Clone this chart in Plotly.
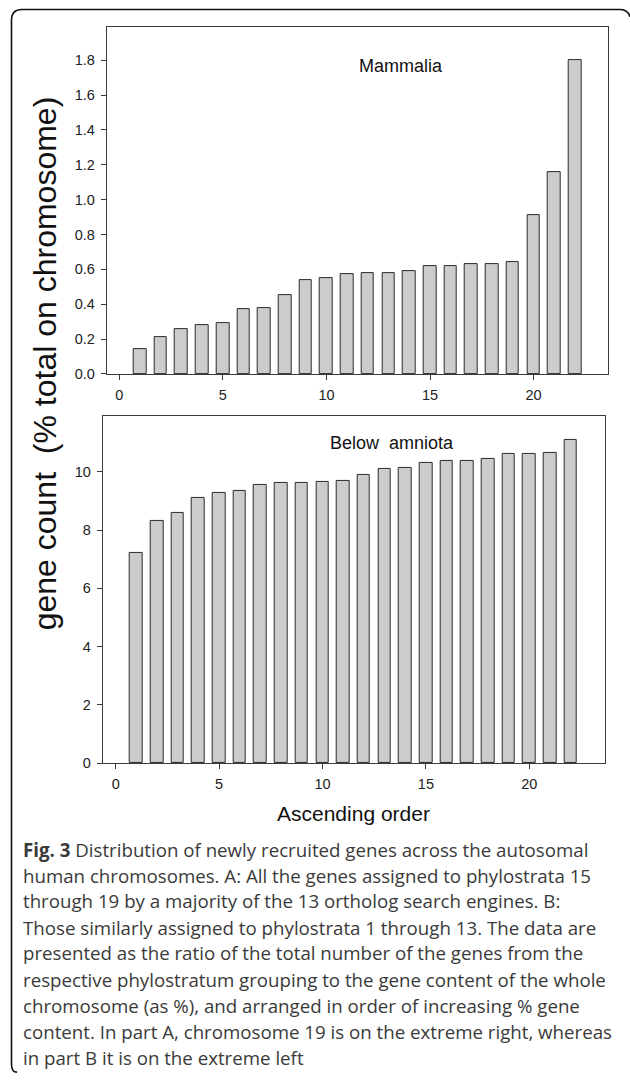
import plotly.graph_objects as go

W, H = 630, 1090

# Chromosomes ranked by % gene content (1 = lowest)
rank = list(range(1, 23))
mammalia_pct = [0.14, 0.21, 0.26, 0.28, 0.29, 0.37, 0.38, 0.45, 0.54, 0.55, 0.57,
                0.58, 0.58, 0.59, 0.62, 0.62, 0.63, 0.63, 0.64, 0.91, 1.16, 1.80]
below_amniota_pct = [7.21, 8.30, 8.58, 9.10, 9.29, 9.33, 9.54, 9.63, 9.63, 9.67, 9.69,
                     9.88, 10.09, 10.15, 10.30, 10.37, 10.37, 10.45, 10.61, 10.61, 10.66, 11.10]

x_ticks = [0, 5, 10, 15, 20]
top_y_ticks = [0.0, 0.2, 0.4, 0.6, 0.8, 1.0, 1.2, 1.4, 1.6, 1.8]
bottom_y_ticks = [0, 2, 4, 6, 8, 10]

caption_lines = [
    "<b>Fig. 3</b> Distribution of newly recruited genes across the autosomal",
    "human chromosomes. A: All the genes assigned to phylostrata 15",
    "through 19 by a majority of the 13 ortholog search engines. B:",
    "Those similarly assigned to phylostrata 1 through 13. The data are",
    "presented as the ratio of the total number of the genes from the",
    "respective phylostratum grouping to the gene content of the whole",
    "chromosome (as %), and arranged in order of increasing % gene",
    "content. In part A, chromosome 19 is on the extreme right, whereas",
    "in part B it is on the extreme left",
]

SANS = "Arial, Liberation Sans, sans-serif"
AXIS_COL = "#3a3a3a"


def px(x):
    return x / W


def py(y):
    return 1 - y / H


bar_style = dict(marker=dict(color="#cccccc", line=dict(color="#2b2b2b", width=1)),
                 width=0.61, showlegend=False, hoverinfo="x+y")

fig = go.Figure()
fig.add_trace(go.Bar(x=rank, y=mammalia_pct, xaxis="x", yaxis="y", **bar_style))
fig.add_trace(go.Bar(x=rank, y=below_amniota_pct, xaxis="x2", yaxis="y2", **bar_style))

axis_common = dict(showline=True, linecolor=AXIS_COL, linewidth=1, mirror=True,
                   ticks="outside", ticklen=5, tickcolor=AXIS_COL, tickwidth=1,
                   showgrid=False, zeroline=False, ticklabelstandoff=3,
                   tickfont=dict(family=SANS, size=14.5, color="#222222"))

fig.update_layout(
    width=W, height=H,
    margin=dict(l=0, r=0, t=0, b=0),
    paper_bgcolor="white", plot_bgcolor="white",
    bargap=0,
    xaxis=dict(domain=[px(106.7), px(607.5)], range=[-0.61, 23.57], anchor="y",
               tickvals=x_ticks, **axis_common),
    yaxis=dict(domain=[py(376.7), py(27.3)], range=[0, 1.99], anchor="x",
               tickvals=top_y_ticks, tickformat=".1f", **axis_common),
    xaxis2=dict(domain=[px(102.7), px(605)], range=[-0.63, 23.66], anchor="y2",
                tickvals=x_ticks, **axis_common),
    yaxis2=dict(domain=[py(768.7), py(419)], range=[0, 11.92], anchor="x2",
                tickvals=bottom_y_ticks, **axis_common),
)

annotations = [
    dict(text="Mammalia", x=px(400.5), y=py(66.7), font=dict(family=SANS, size=18, color="#111")),
    dict(text="Below&nbsp;&nbsp;amniota", x=px(392), y=py(446), font=dict(family=SANS, size=18, color="#111")),
    dict(text="Ascending order", x=px(353), y=py(820), font=dict(family=SANS, size=21, color="#111")),
    dict(text="gene count&nbsp;&nbsp;(% total on chromosome)", x=px(45), y=py(366), textangle=-90,
         font=dict(family=SANS, size=32, color="#111")),
]
for a in annotations:
    a.update(xref="paper", yref="paper", showarrow=False, xanchor="center", yanchor="middle")

line_y = [856, 881.7, 907.3, 934, 960, 986.7, 1013.3, 1039.3, 1065.3]
for text, y in zip(caption_lines, line_y):
    annotations.append(dict(text=text, x=px(21), y=py(y), xref="paper", yref="paper",
                            showarrow=False, xanchor="left", yanchor="middle",
                            font=dict(family="Open Sans, sans-serif", size=18.7, color="#3a3a3a")))
fig.update_layout(annotations=annotations)

# Rounded frame around the figure panel
pts = lambda x, y: f"{px(x):.5f},{py(y):.5f}"
frame = (f"M {pts(17, 1080)} Q {pts(11.5, 1080)} {pts(11.5, 1072)} "
         f"L {pts(11.5, 20)} Q {pts(11.5, 9.5)} {pts(22, 9.5)} "
         f"L {pts(620, 9.5)} Q {pts(628, 9.5)} {pts(630, 17)}")
fig.add_shape(type="path", path=frame, xref="paper", yref="paper",
              line=dict(color="#111", width=1.6))

fig.write_html("out.html")
